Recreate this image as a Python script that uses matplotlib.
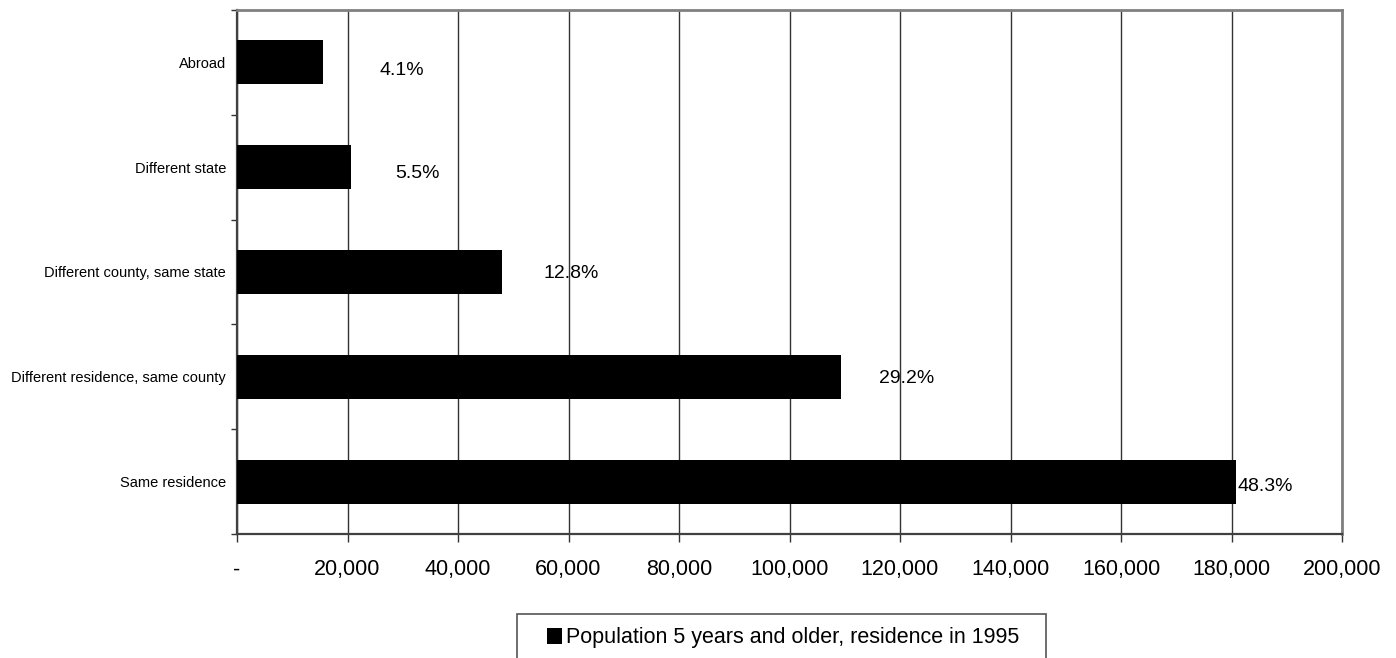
import numpy as np
import matplotlib
matplotlib.use('Agg')
import matplotlib.pyplot as plt
from matplotlib.ticker import FuncFormatter, MultipleLocator
from matplotlib.patches import Rectangle

plt.rcParams['font.family'] = ['Liberation Sans', 'DejaVu Sans']

# data (bottom -> top)
categories = ['Same residence', 'Different residence, same county',
              'Different county, same state', 'Different state', 'Abroad']
values = [180800, 109400, 48000, 20600, 15500]
pct_labels = ['48.3%', '29.2%', '12.8%', '5.5%', '4.1%']
series_name = 'Population 5 years and older, residence in 1995'

# label placement (pixels from bar end / bar centre)
lab_dx = [2, 38, 41, 44, 57]
lab_dy = [-5, -2, -2, -6, -8]

W, H = 1396, 658
fig = plt.figure(figsize=(W / 100, H / 100), dpi=100)
ax = fig.add_axes([237 / W, 1 - 534.3 / H, (1342 - 237) / W, (534.3 - 9.7) / H])

y = np.arange(len(categories))
bars = ax.barh(y, values, height=0.42, color='black', zorder=3, label=series_name)

for i, v in enumerate(values):
    ax.annotate(pct_labels[i], (v, y[i]), xytext=(lab_dx[i], lab_dy[i]),
                textcoords='offset pixels', ha='left', va='center',
                fontsize=14, zorder=4)

ax.set_xlim(0, 200000)
ax.set_ylim(-0.5, len(categories) - 0.5)
ax.xaxis.set_major_locator(MultipleLocator(20000))
ax.xaxis.set_major_formatter(FuncFormatter(lambda v, p: '-' if v == 0 else f'{v:,.0f}'))
ax.tick_params(axis='x', direction='out', length=6, width=1, pad=12,
               labelsize=15.5, color='#333333')

ax.set_yticks(y)
ax.set_yticklabels(categories)
ax.set_yticks(np.arange(-0.5, len(categories), 1), minor=True)
ax.tick_params(axis='y', which='major', length=0, pad=8, labelsize=10.5)
ax.tick_params(axis='y', which='minor', direction='out', length=4, width=1, color='#333333')

ax.grid(axis='x', color='#333333', linewidth=1, zorder=0)
ax.set_axisbelow(True)

for s in ['left', 'bottom']:
    ax.spines[s].set_color('#404040')
    ax.spines[s].set_linewidth(1.6)
for s in ['top', 'right']:
    ax.spines[s].set_color('#808080')
    ax.spines[s].set_linewidth(2)

# legend box (runs off the bottom edge like the original)
fig.patches.append(Rectangle((517 / W, 0 - 10 / H), (1046 - 517) / W, (658 - 614 + 10) / H,
                             transform=fig.transFigure, facecolor='white',
                             edgecolor='#555555', linewidth=1.2, zorder=1))
fig.legend(handles=[bars], labels=[series_name], loc='center',
           bbox_to_anchor=(783 / W, 1 - 638 / H), frameon=False, fontsize=15.5,
           handlelength=0.7, handleheight=0.75, handletextpad=0.2, borderpad=0)

fig.savefig('out.png', dpi=100)
